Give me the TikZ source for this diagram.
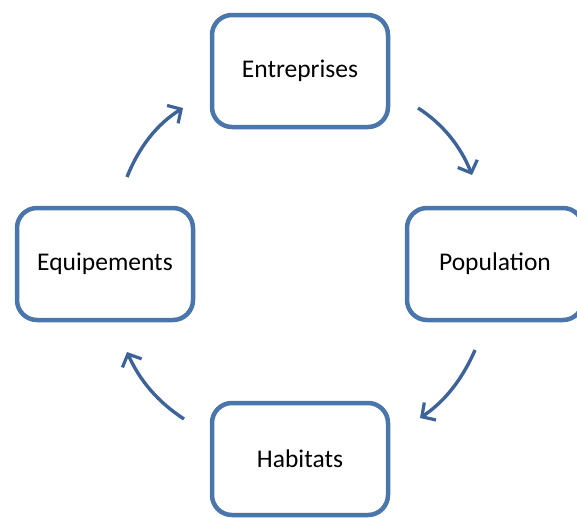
\documentclass[tikz,border=0pt]{standalone}
\usepackage{fontspec}
\setmainfont{Carlito}
\usetikzlibrary{arrows.meta, positioning}
\definecolor{boxblue}{HTML}{4A76AB}
\definecolor{arrblue}{HTML}{3D6399}

\begin{document}
\begin{tikzpicture}[x=1pt, y=-1pt,
      bloc/.style={draw=boxblue, line width=4.5pt, rectangle, rounded corners=20pt,
                   minimum width=176pt, minimum height=112pt,
                   align=center, font=\fontsize{25.5}{30}\selectfont},
      arr/.style={-{Straight Barb[length=10pt, width=21pt, line width=3.2pt]},
                  draw=arrblue, line width=3.4pt}
    ]
    \useasboundingbox (0,0) rectangle (577,517);

    % Blocs du cycle
    \node[bloc] (ent) at (300, 71)  {Entreprises};
    \node[bloc] (pop) at (495, 264) {Population};
    \node[bloc] (hab) at (300, 459) {Habitats};
    \node[bloc] (equ) at (105, 264) {Equipements};

    % Extremites des fleches
    \coordinate (a1) at (418, 108);  \coordinate (b1) at (472, 175);
    \coordinate (a2) at (475, 350);  \coordinate (b2) at (420, 418);
    \coordinate (a3) at (184, 419);  \coordinate (b3) at (127, 352);
    \coordinate (a4) at (127, 177);  \coordinate (b4) at (183, 108);

    % Fleches courbes
    \draw[arr] (a1) .. controls (443, 124) and (461, 147) .. (b1);
    \draw[arr] (a2) .. controls (462, 380) and (444, 402) .. (b2);
    \draw[arr] (a3) .. controls (158, 402) and (140, 381) .. (b3);
    \draw[arr] (a4) .. controls (139, 147) and (157, 124) .. (b4);
  \end{tikzpicture}
\end{document}
